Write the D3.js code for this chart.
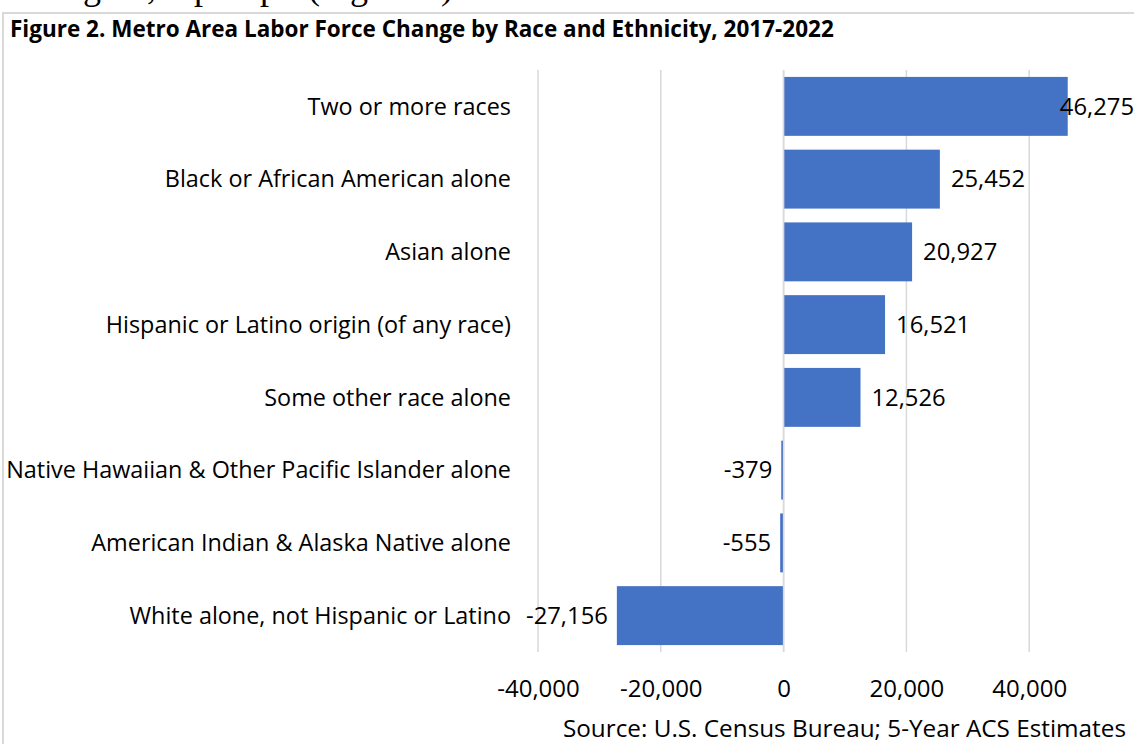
<!DOCTYPE html>
<html><head><meta charset="utf-8">
<script src="https://cdn.jsdelivr.net/npm/d3@7"></script>
<style>body{margin:0;background:#fff;overflow:hidden}svg{display:block}</style>
</head><body>
<svg id="c" width="1134" height="744"></svg>
<script>
const categories = ["Two or more races","Black or African American alone","Asian alone","Hispanic or Latino origin (of any race)","Some other race alone","Native Hawaiian & Other Pacific Islander alone","American Indian & Alaska Native alone","White alone, not Hispanic or Latino"];
const values = [46275,25452,20927,16521,12526,-379,-555,-27156];
const tickValues = [-40000,-20000,0,20000,40000];
const title = "Figure 2. Metro Area Labor Force Change by Race and Ethnicity, 2017-2022";
const source = "Source: U.S. Census Bureau; 5-Year ACS Estimates";
const topWords = ["the region,", "up", "top", "(Figure 2)."];

const W = 1134, H = 744;
const svg = d3.select("#c");
const font = "'Open Sans', sans-serif";
const data = categories.map((c,i)=>({c, v: values[i]}));
const loc = d3.formatLocale({decimal:".", thousands:",", grouping:[3], currency:["$",""], minus:"-"});
const fmt = loc.format(",");

// cropped body text above the figure (only descenders visible)
const tt = svg.append("text").attr("y",-1).attr("font-family","'Liberation Serif', serif")
  .attr("font-size",36).attr("fill","#000");
tt.append("tspan").attr("x",156).attr("text-anchor","end").text(topWords[0]);
tt.append("tspan").attr("x",212).attr("text-anchor","end").text(topWords[1]);
tt.append("tspan").attr("x",278).attr("text-anchor","end").text(topWords[2]);
tt.append("tspan").attr("x",308).attr("text-anchor","start").text(topWords[3]);

// frame
svg.append("rect").attr("x",3).attr("y",13).attr("width",W+10).attr("height",H)
  .attr("fill","#fff").attr("stroke","#d9d9d9").attr("stroke-width",2);

svg.append("text").attr("x",10).attr("y",37).attr("font-family",font).attr("font-weight","bold")
  .attr("font-size",22.5).attr("fill","#000").text(title);

const x = d3.scaleLinear().domain([-40000,60000]).range([538,1152]);
const y = d3.scaleBand().domain(categories).range([70,652]).paddingInner(0.19).paddingOuter(0.095);

// gridlines
const g = svg.append("g");
g.selectAll("line.grid").data(tickValues.concat([60000])).join("line")
  .attr("x1",d=>x(d)).attr("x2",d=>x(d)).attr("y1",70).attr("y2",652)
  .attr("stroke","#d9d9d9").attr("stroke-width",1.5);

// bars
g.selectAll("rect.bar").data(data).join("rect")
  .attr("x",d=>x(Math.min(0,d.v))).attr("width",d=>Math.abs(x(d.v)-x(0)))
  .attr("y",d=>y(d.c)).attr("height",y.bandwidth()).attr("fill","#4472c4");

// zero line
g.append("line").attr("x1",x(0)).attr("x2",x(0)).attr("y1",70).attr("y2",652)
  .attr("stroke","#d9d9d9").attr("stroke-width",1.5);

// category labels
g.selectAll("text.cat").data(data).join("text")
  .attr("x",511).attr("y",d=>y(d.c)+y.bandwidth()/2).attr("dy","0.35em")
  .attr("text-anchor","end").attr("font-family",font).attr("font-size",23.4).attr("fill","#000")
  .text(d=>d.c);

// value labels
g.selectAll("text.val").data(data).join("text")
  .attr("y",d=>y(d.c)+y.bandwidth()/2).attr("dy","0.35em")
  .attr("font-family",font).attr("font-size",23.8).attr("fill","#000")
  .text(d=>fmt(d.v))
  .each(function(d){
    const t = d3.select(this);
    if (d.v >= 0) {
      const w = this.getComputedTextLength();
      let px = x(d.v) + 11;
      if (px + w > W) { t.attr("x", W).attr("text-anchor","end"); }
      else t.attr("x", px).attr("text-anchor","start");
    } else {
      t.attr("x", x(d.v) - 9).attr("text-anchor","end");
    }
  });

// x axis
const axis = d3.axisBottom(x).tickValues(tickValues).tickSize(0).tickPadding(0).tickFormat(fmt);
const ax = svg.append("g").attr("transform","translate(0,680)").call(axis);
ax.select(".domain").remove();
ax.selectAll("text").attr("font-family",font).attr("font-size",24).attr("fill","#000");

svg.append("text").attr("x",1126).attr("y",737).attr("text-anchor","end")
  .attr("font-family",font).attr("font-size",24.3).attr("fill","#000").text(source);
</script>
</body></html>
